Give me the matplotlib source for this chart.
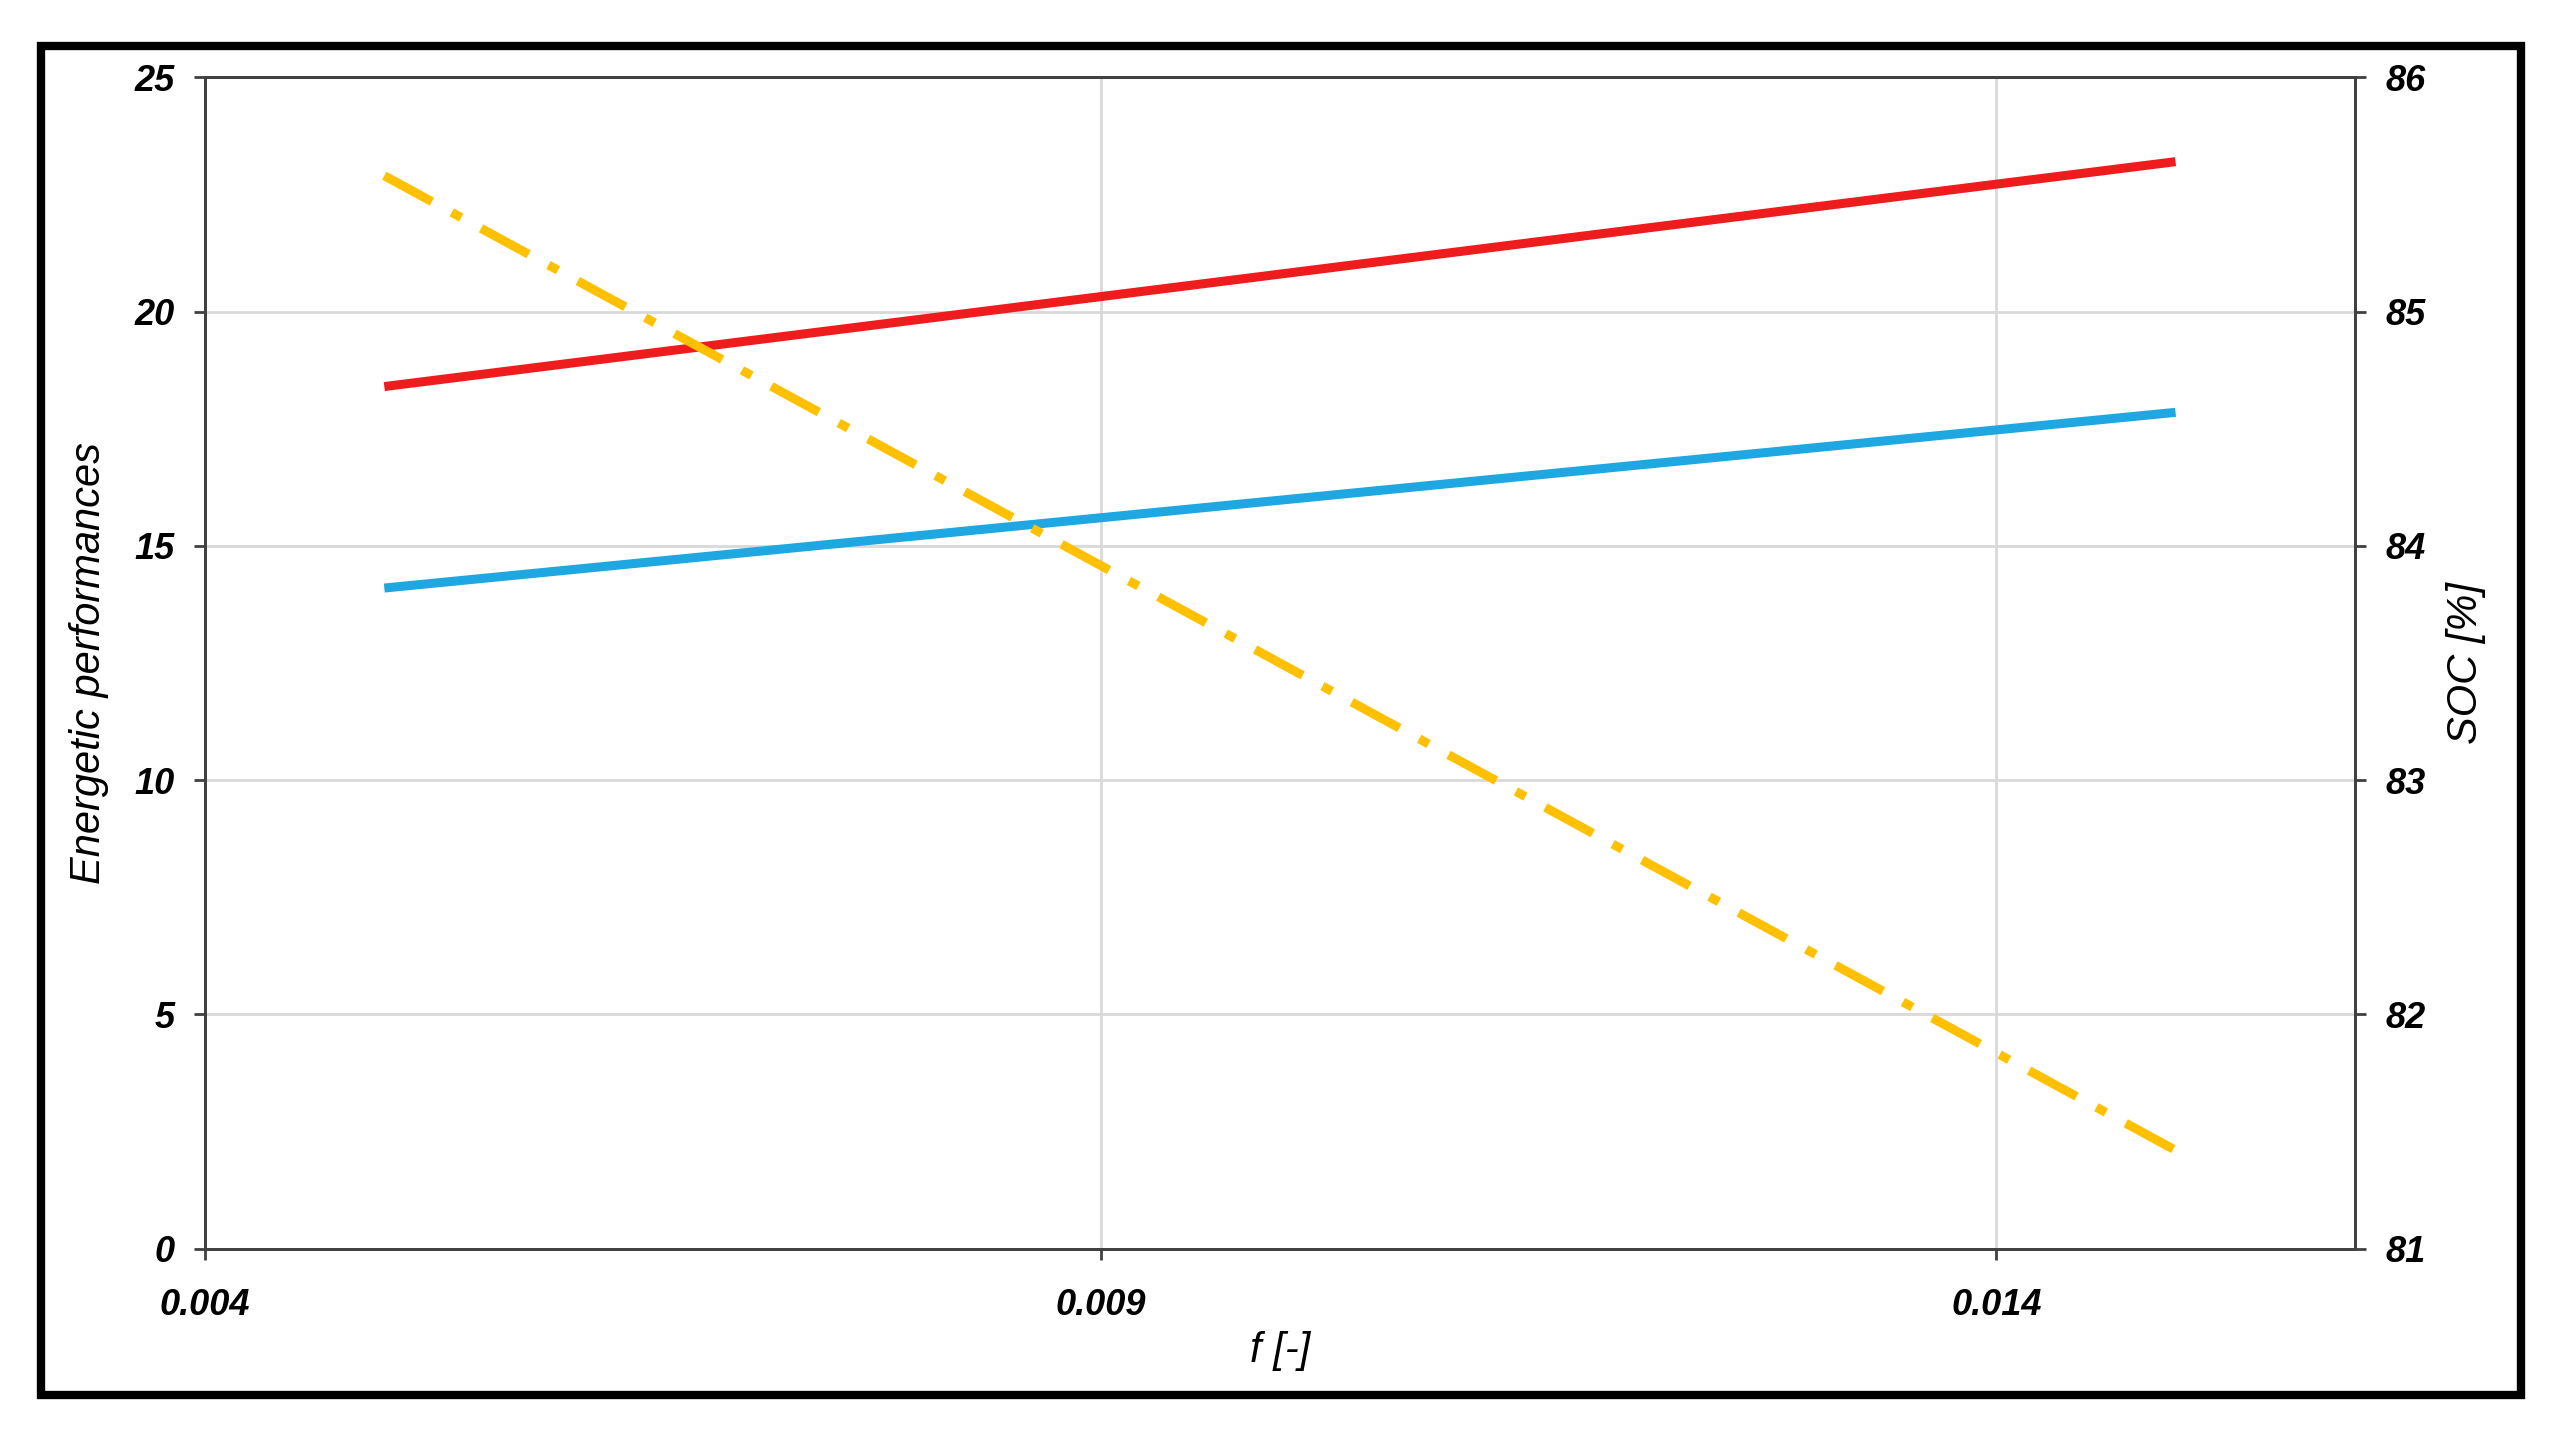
import matplotlib
matplotlib.use('Agg')
import matplotlib.pyplot as plt
from matplotlib.patches import Rectangle

f_vals = [0.005, 0.015]
red_vals = [18.4, 23.2]
blue_vals = [14.1, 17.85]
soc_vals = [85.58, 81.42]

plt.rcParams['font.family'] = ['Liberation Sans', 'DejaVu Sans']

fig = plt.figure(figsize=(25.65, 14.32), dpi=100)
# black frame around the figure
fig.patches.append(Rectangle((0.016, 0.026), 0.967, 0.942, transform=fig.transFigure,
                             fill=False, edgecolor='black', linewidth=6))

ax = fig.add_axes([0.080, 0.128, 0.838, 0.818])
ax.plot(f_vals, red_vals, color='#ee1c1c', linewidth=6.5, solid_capstyle='butt')
ax.plot(f_vals, blue_vals, color='#1ea7e0', linewidth=6.5, solid_capstyle='butt')
ax.set_xlim(0.004, 0.016)
ax.set_ylim(0, 25)
ax.set_xticks([0.004, 0.009, 0.014])
ax.set_xticklabels(['0.004', '0.009', '0.014'])
ax.set_yticks([0, 5, 10, 15, 20, 25])
ax.grid(True, color='#d9d9d9', linewidth=2)
ax.set_axisbelow(True)

ax2 = ax.twinx()
ax2.plot(f_vals, soc_vals, color='#ffc000', linewidth=6.5, dashes=(6, 2.5, 1.2, 2.5))
ax2.set_ylim(81, 86)
ax2.set_yticks([81, 82, 83, 84, 85, 86])

for a in (ax, ax2):
    for s in a.spines.values():
        s.set_color('#404040')
        s.set_linewidth(2)
    a.tick_params(labelsize=26, length=8, width=2, color='#404040')
    a.tick_params(axis='y', pad=14)
    a.tick_params(axis='x', pad=20)
    for lbl in a.get_xticklabels() + a.get_yticklabels():
        lbl.set_fontweight('bold')
        lbl.set_fontstyle('italic')

ax.set_xlabel('f [-]', fontsize=30, fontstyle='italic', labelpad=6)
ax.set_ylabel('Energetic performances', fontsize=30, fontstyle='italic', labelpad=18)
ax2.set_ylabel('SOC [%]', fontsize=30, fontstyle='italic', labelpad=15)

fig.savefig('out.png', dpi=100)
